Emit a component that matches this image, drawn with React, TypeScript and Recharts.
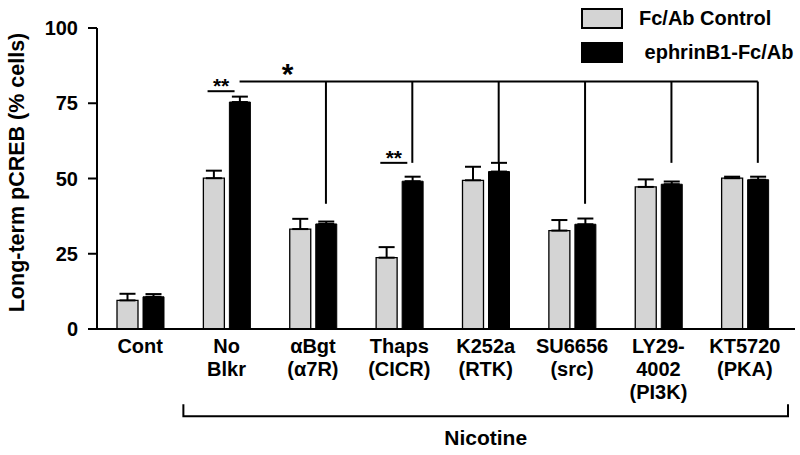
import React from 'react';
import { BarChart, Bar, XAxis, YAxis, ErrorBar, Legend, ReferenceLine, Label } from 'recharts';

// values (% cells), errors are upper SEM only
const categories = ['Cont', 'No Blkr', 'αBgt', 'Thaps', 'K252a', 'SU6656', 'LY29-4002', 'KT5720'];
const tickLines = [
    ['Cont'],
    ['No', 'Blkr'],
    ['αBgt', '(α7R)'],
    ['Thaps', '(CICR)'],
    ['K252a', '(RTK)'],
    ['SU6656', '(src)'],
    ['LY29-', '4002', '(PI3K)'],
    ['KT5720', '(PKA)'],
];
const controlMeans = [9.5, 50.1, 33.2, 23.7, 49.4, 32.7, 47.2, 50.1];
const controlSem = [2.2, 2.5, 3.4, 3.5, 4.5, 3.5, 2.5, 0.5];
const ephrinMeans = [10.7, 75.4, 34.9, 49.1, 52.3, 34.8, 48.1, 49.6];
const ephrinSem = [0.9, 1.8, 0.8, 1.5, 2.9, 1.9, 0.9, 1.0];
const yTicks = [0, 25, 50, 75, 100];

// significance marks
const pairMarks = [
    { category: 'No Blkr', level: 79, text: '**' },
    { category: 'Thaps', level: 55.2, text: '**' },
];
const groupLevel = 82.2;
const groupDrops = [
    { category: 'αBgt', to: 41.6 },
    { category: 'Thaps', to: 55.2 },
    { category: 'K252a', to: 55.2 },
    { category: 'SU6656', to: 41.6 },
    { category: 'LY29-4002', to: 55.2 },
    { category: 'KT5720', to: 55.2 },
];
const nicotineLevel = -29;

const data = categories.map((name, i) => ({
    name,
    control: controlMeans[i],
    controlErr: [0, controlSem[i]],
    ephrin: ephrinMeans[i],
    ephrinErr: [0, ephrinSem[i]],
}));

const seriesOrder = ['control', 'ephrin'];

const FONT = '"Liberation Sans", Arial, Helvetica, sans-serif';
const W = 800;
const H = 455;
const AXIS_W = 97;
const MARGIN_R = 5;
const PAD_R = 7;
const BAR = 21;
const GAP = 5;
const BAND = (W - AXIS_W - MARGIN_R - PAD_R) / categories.length;
const HALF_PAIR = (BAR + GAP) / 2; // centre of each bar relative to band centre

const CategoryTick = ({ x, y, payload }: any) => {
    const idx = categories.indexOf(payload.value);
    const lines = idx >= 0 ? tickLines[idx] : [payload.value];
    return (
        <text x={x} y={y} textAnchor="middle" fill="#000" fontFamily={FONT} fontWeight={700} fontSize={20}>
            {lines.map((l, i) => (
                <tspan key={i} x={x} dy={i === 0 ? 24 : 23}>
                    {l}
                </tspan>
            ))}
        </text>
    );
};

const YTitle = ({ viewBox }: any) => {
    const cx = 17;
    const cy = viewBox.y + viewBox.height / 2 - 6;
    return (
        <text
            x={cx}
            y={cy}
            transform={`rotate(-90 ${cx} ${cy})`}
            textAnchor="middle"
            dominantBaseline="central"
            fill="#000"
            fontFamily={FONT}
            fontWeight={700}
            fontSize={21.5}
        >
            Long-term pCREB (% cells)
        </text>
    );
};

const LegendContent = ({ payload }: any) => {
    const items = [...(payload || [])].sort(
        (a: any, b: any) => seriesOrder.indexOf(a.dataKey) - seriesOrder.indexOf(b.dataKey)
    );
    return (
        <div style={{ fontFamily: FONT, fontWeight: 700, fontSize: 20, color: '#000' }}>
            {items.map((p: any, i: number) => (
                <div key={i} style={{ display: 'flex', alignItems: 'center', height: 34 }}>
                    <div
                        style={{
                            width: 42,
                            height: 21,
                            boxSizing: 'border-box',
                            border: '2px solid #000',
                            background: p.color,
                            marginRight: 16,
                        }}
                    />
                    <span style={{ whiteSpace: 'pre' }}>{p.value}</span>
                </div>
            ))}
        </div>
    );
};

export default function App() {
    return (
        <div style={{ position: 'absolute', left: 0, top: 0, width: W, height: H, background: '#fff' }}>
            <BarChart
                width={W}
                height={H}
                data={data}
                margin={{ top: 28, right: MARGIN_R, left: 0, bottom: 0 }}
                barSize={BAR}
                barGap={GAP}
            >
                <XAxis
                    dataKey="name"
                    height={126}
                    interval={0}
                    tickLine={false}
                    tickSize={0}
                    tickMargin={0}
                    axisLine={{ stroke: '#000', strokeWidth: 2 }}
                    tick={<CategoryTick />}
                    padding={{ left: 0, right: PAD_R }}
                />
                <YAxis
                    width={AXIS_W}
                    domain={[0, 100]}
                    ticks={yTicks}
                    interval={0}
                    tickSize={9}
                    tickMargin={10}
                    axisLine={{ stroke: '#000', strokeWidth: 2 }}
                    tickLine={{ stroke: '#000', strokeWidth: 2 }}
                    tick={{ fill: '#000', fontSize: 20, fontWeight: 700, fontFamily: FONT }}
                >
                    <Label content={<YTitle />} />
                </YAxis>
                <Legend
                    layout="vertical"
                    align="center"
                    verticalAlign="middle"
                    itemSorter="dataKey"
                    content={<LegendContent />}
                    wrapperStyle={{ top: 1, left: 581, width: 'auto', right: 'auto', bottom: 'auto' }}
                />
                <Bar dataKey="control" name="Fc/Ab Control" fill="#d4d4d4" stroke="#000" strokeWidth={1.3} isAnimationActive={false}>
                    <ErrorBar dataKey="controlErr" direction="y" width={8} stroke="#000" strokeWidth={2} />
                </Bar>
                <Bar dataKey="ephrin" name=" ephrinB1-Fc/Ab" fill="#000" stroke="#000" strokeWidth={1} isAnimationActive={false}>
                    <ErrorBar dataKey="ephrinErr" direction="y" width={8} stroke="#000" strokeWidth={2} />
                </Bar>

                {pairMarks.map((m) => (
                    <ReferenceLine
                        key={`pair-${m.category}`}
                        segment={[{ x: m.category, y: m.level }, { x: m.category, y: m.level }]}
                        ifOverflow="visible"
                        shape={(p: any) => {
                            const x1 = p.x1 - HALF_PAIR - 6;
                            const x2 = p.x1 + HALF_PAIR - 5;
                            return (
                                <g>
                                    <line x1={x1} y1={p.y1} x2={x2} y2={p.y1} stroke="#000" strokeWidth={2} />
                                    <text x={(x1 + x2) / 2} y={p.y1 + 2} textAnchor="middle" fontFamily={FONT} fontWeight={700} fontSize={21} fill="#000">
                                        {m.text}
                                    </text>
                                </g>
                            );
                        }}
                    />
                ))}

                <ReferenceLine
                    segment={[{ x: categories[1], y: groupLevel }, { x: categories[categories.length - 1], y: groupLevel }]}
                    ifOverflow="visible"
                    shape={(p: any) => (
                        <g>
                            <line x1={p.x1 + HALF_PAIR} y1={p.y1} x2={p.x2 + HALF_PAIR} y2={p.y2} stroke="#000" strokeWidth={2} />
                            <text x={p.x1 + HALF_PAIR + 48} y={p.y1 + 2} textAnchor="middle" fontFamily={FONT} fontWeight={700} fontSize={30} fill="#000">
                                *
                            </text>
                        </g>
                    )}
                />
                {groupDrops.map((d) => (
                    <ReferenceLine
                        key={`drop-${d.category}`}
                        segment={[{ x: d.category, y: groupLevel }, { x: d.category, y: d.to }]}
                        ifOverflow="visible"
                        shape={(p: any) => (
                            <line x1={p.x1 + HALF_PAIR} y1={p.y1} x2={p.x2 + HALF_PAIR} y2={p.y2} stroke="#000" strokeWidth={2} />
                        )}
                    />
                ))}

                <ReferenceLine
                    segment={[{ x: categories[1], y: nicotineLevel }, { x: categories[categories.length - 1], y: nicotineLevel }]}
                    ifOverflow="visible"
                    shape={(p: any) => {
                        const x1 = p.x1 - BAND / 2;
                        const x2 = p.x2 + BAND / 2;
                        return (
                            <g>
                                <path
                                    d={`M${x1},${p.y1 - 12} L${x1},${p.y1} L${x2},${p.y1} L${x2},${p.y1 - 12}`}
                                    fill="none"
                                    stroke="#000"
                                    strokeWidth={2}
                                />
                                <text x={(x1 + x2) / 2} y={p.y1 + 29} textAnchor="middle" fontFamily={FONT} fontWeight={700} fontSize={21} fill="#000">
                                    Nicotine
                                </text>
                            </g>
                        );
                    }}
                />
            </BarChart>
        </div>
    );
}
